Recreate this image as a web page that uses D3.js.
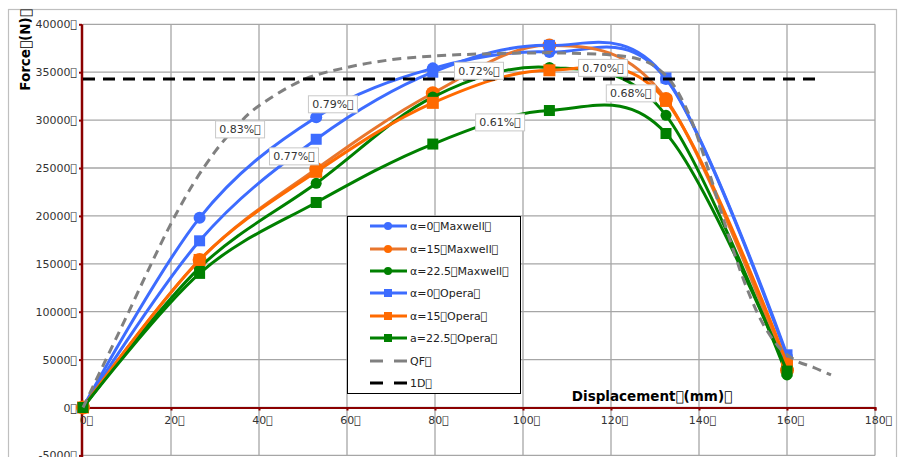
<!DOCTYPE html>
<html><head><meta charset="utf-8">
<script src="https://cdn.jsdelivr.net/npm/d3@7"></script>
<style>
html,body{margin:0;padding:0;background:#fff;overflow:hidden}
svg{display:block}
text{font-family:"DejaVu Sans",sans-serif}
</style></head>
<body><svg id="c" width="903" height="457"></svg>
<script>
const BOX = "\uE000";
// ---- data ----
const xMarks = [0, 26.5, 53, 79.5, 106, 132.5, 160];
const a0Maxwell   = [0, 19800, 30300, 35400, 37100, 34300, 5300];
const a15Maxwell  = [0, 15400, 24900, 32800, 37800, 32200, 3900];
const a225Maxwell = [0, 14600, 23400, 32400, 35500, 30500, 3400];
const a0Opera     = [0, 17400, 28000, 35000, 37800, 34400, 5500];
const a15Opera    = [0, 15400, 24600, 31800, 35200, 32000, 4600];
const a225Opera   = [0, 14000, 21400, 27500, 31000, 28600, 3800];
const qfX = [0, 5, 10, 15, 20, 25, 30, 35, 40, 50, 60, 70, 80, 90, 100, 110, 120, 126, 130, 134, 138, 142, 146, 150, 154, 158, 162, 166, 170];
const qfY = [0, 4800, 9600, 14500, 19200, 23300, 26700, 29400, 31500, 34200, 35500, 36300, 36700, 36900, 37000, 37000, 36800, 36400, 35600, 33800, 30300, 25000, 19000, 13500, 9200, 6400, 4900, 4200, 3400];
const oneDX = [0, 167];
const oneDY = [34300, 34300];
const seriesNames = ["α=0" + BOX + "Maxwell" + BOX, "α=15" + BOX + "Maxwell" + BOX, "α=22.5" + BOX + "Maxwell" + BOX,
  "α=0" + BOX + "Opera" + BOX, "α=15" + BOX + "Opera" + BOX, "a=22.5" + BOX + "Opera" + BOX, "QF" + BOX, "1D" + BOX];
const xTicks = [0, 20, 40, 60, 80, 100, 120, 140, 160, 180];
const yTicks = [-5000, 0, 5000, 10000, 15000, 20000, 25000, 30000, 35000, 40000];
const noteTexts = ["0.83%", "0.79%", "0.77%", "0.72%", "0.70%", "0.68%", "0.61%"];
const noteX = [35.7, 56.8, 47.95, 90, 118.2, 124.5, 94.8];
const noteY = [29030, 31650, 26215, 35150, 35450, 32790, 29760];

// ---- styles ----
const BLUE = "#3d6cff", ORANGE = "#ff6a00", ORANGE_M = "#e8762e", GREEN = "#008000";
const series = [
  {name: seriesNames[0], x: xMarks, y: a0Maxwell, color: BLUE, mcolor: BLUE, marker: "circle", r: 6},
  {name: seriesNames[1], x: xMarks, y: a15Maxwell, color: ORANGE_M, mcolor: ORANGE, marker: "circle", r: 7},
  {name: seriesNames[2], x: xMarks, y: a225Maxwell, color: GREEN, mcolor: GREEN, marker: "circle", r: 5.5},
  {name: seriesNames[3], x: xMarks, y: a0Opera, color: BLUE, mcolor: BLUE, marker: "square", r: 5.5},
  {name: seriesNames[4], x: xMarks, y: a15Opera, color: ORANGE, mcolor: ORANGE, marker: "square", r: 6},
  {name: seriesNames[5], x: xMarks, y: a225Opera, color: GREEN, mcolor: GREEN, marker: "square", r: 5.5},
  {name: seriesNames[6], x: qfX, y: qfY, color: "#808080", marker: null, dash: "9,6"},
  {name: seriesNames[7], x: oneDX, y: oneDY, color: "#000", marker: null, dash: "12,8", straight: true}
];

const svg = d3.select("#c");
const x = d3.scaleLinear().domain([0, 180]).range([83, 875]);
const y = d3.scaleLinear().domain([-5000, 40000]).range([455.4, 24.3]);

// outer border
svg.append("rect").attr("x", 8.5).attr("y", 9.5).attr("width", 888).attr("height", 470)
  .attr("fill", "none").attr("stroke", "#bfbfbf").attr("stroke-width", 1.2);

// gridlines
const grid = svg.append("g");
grid.selectAll("line.h").data(yTicks).join("line")
  .attr("x1", x(0)).attr("x2", x(180)).attr("y1", d => y(d)).attr("y2", d => y(d))
  .attr("stroke", "#a6a6a6").attr("stroke-width", 1.3);
grid.selectAll("line.v").data(xTicks.slice(1)).join("line")
  .attr("x1", d => x(d)).attr("x2", d => x(d)).attr("y1", y(40000)).attr("y2", y(-5000))
  .attr("stroke", "#a6a6a6").attr("stroke-width", 1.3);

// axes
const yAxis = d3.axisLeft(y).tickValues(yTicks).tickSize(3).tickFormat(d => d + BOX);
const gy = svg.append("g").attr("transform", `translate(${x(0) - 1},0)`).call(yAxis);
gy.select(".domain").attr("stroke", "#8b0000").attr("stroke-width", 2.5).attr("d", `M0,${y(40000)}V460`);
gy.selectAll(".tick line").attr("stroke", "#8b0000").attr("stroke-width", 2);
gy.selectAll(".tick text").attr("font-size", 11).attr("fill", "#333").attr("x", -5)
  .style("font-family", "DejaVu Sans");

const xAxis = d3.axisBottom(x).tickValues(xTicks).tickSize(3).tickFormat(d => d + BOX);
const gx = svg.append("g").attr("transform", `translate(0,${y(0)})`).call(xAxis);
gx.select(".domain").attr("stroke", "#8b0000").attr("stroke-width", 2);
gx.selectAll(".tick line").attr("stroke", "#8b0000").attr("stroke-width", 2);
gx.selectAll(".tick text").attr("font-size", 11).attr("fill", "#333").attr("y", 9)
  .attr("dx", 3).style("font-family", "DejaVu Sans");

// axis titles
svg.append("text").attr("transform", "translate(30,50) rotate(-90)").attr("text-anchor", "middle")
  .attr("font-size", 13.5).attr("font-weight", "bold").attr("fill", "#000").text("Force" + BOX + "(N)" + BOX);
svg.append("text").attr("x", 652).attr("y", 401).attr("text-anchor", "middle")
  .attr("font-size", 13.5).attr("font-weight", "bold").attr("fill", "#000").text("Displacement" + BOX + "(mm)" + BOX);

// series lines
const plot = svg.append("g");
series.forEach(s => {
  const pts = s.x.map((v, i) => [v, s.y[i]]);
  const line = d3.line().x(d => x(d[0])).y(d => y(d[1]))
    .curve(s.straight ? d3.curveLinear : d3.curveCardinal.tension(0));
  plot.append("path").attr("d", line(pts)).attr("fill", "none").attr("stroke", s.color)
    .attr("stroke-width", 3).attr("stroke-dasharray", s.dash || null);
  if (s.marker === "circle") {
    plot.append("g").selectAll("circle").data(pts).join("circle")
      .attr("cx", d => x(d[0])).attr("cy", d => y(d[1])).attr("r", s.r).attr("fill", s.mcolor);
  } else if (s.marker === "square") {
    plot.append("g").selectAll("rect").data(pts).join("rect")
      .attr("x", d => x(d[0]) - s.r).attr("y", d => y(d[1]) - s.r)
      .attr("width", 2 * s.r).attr("height", 2 * s.r).attr("fill", s.mcolor);
  }
});

// annotations
const notes = svg.append("g");
noteTexts.forEach((t, i) => {
  const cx = x(noteX[i]), cy = y(noteY[i]);
  notes.append("rect").attr("x", cx - 24.5).attr("y", cy - 8.5).attr("width", 49).attr("height", 17)
    .attr("fill", "#fff").attr("stroke", "#c8c8c8").attr("stroke-width", 1);
  notes.append("text").attr("x", cx).attr("y", cy + 4).attr("text-anchor", "middle")
    .attr("font-size", 11).attr("fill", "#333").text(t + BOX);
});

// legend
const lg = svg.append("g");
lg.append("rect").attr("x", 347.5).attr("y", 216.5).attr("width", 173).attr("height", 177)
  .attr("fill", "#fff").attr("stroke", "#000").attr("stroke-width", 1);
const rowY = [226, 249, 271, 293, 316, 338, 361, 383];
series.forEach((s, i) => {
  const ry = rowY[i];
  if (s.dash) {
    lg.append("line").attr("x1", 370).attr("x2", 383).attr("y1", ry).attr("y2", ry).attr("stroke", s.color).attr("stroke-width", 3);
    lg.append("line").attr("x1", 394).attr("x2", 407).attr("y1", ry).attr("y2", ry).attr("stroke", s.color).attr("stroke-width", 3);
  } else {
    lg.append("line").attr("x1", 370).attr("x2", 407).attr("y1", ry).attr("y2", ry).attr("stroke", s.color).attr("stroke-width", 3);
    if (s.marker === "circle") lg.append("circle").attr("cx", 388).attr("cy", ry).attr("r", 4).attr("fill", s.mcolor);
    else lg.append("rect").attr("x", 384).attr("y", ry - 4).attr("width", 8).attr("height", 8).attr("fill", s.mcolor);
  }
  lg.append("text").attr("x", 410).attr("y", ry + 4).attr("font-size", 11).attr("fill", "#222").text(s.name);
});
</script></body></html>
